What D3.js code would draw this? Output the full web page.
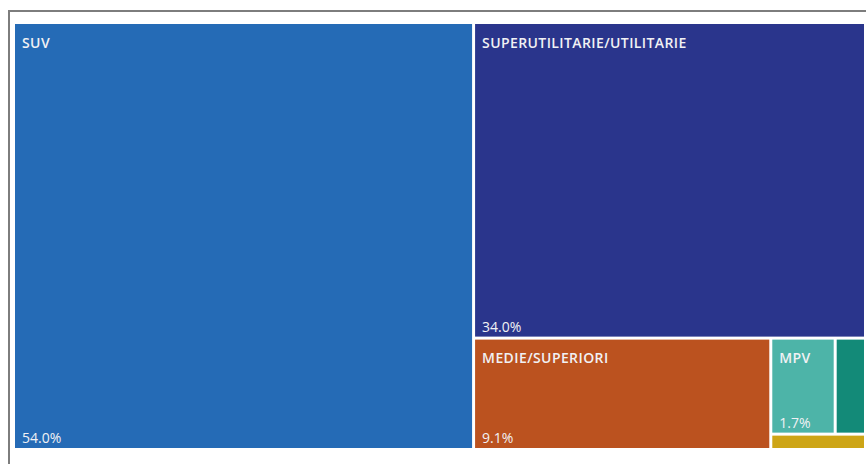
<!DOCTYPE html>
<html>
<head>
<meta charset="utf-8">
<script src="https://cdn.jsdelivr.net/npm/d3@7"></script>
<style>
  html, body { margin: 0; padding: 0; background: #ffffff; }
  svg { display: block; }
</style>
</head>
<body>
<svg id="chart" width="866" height="464"></svg>
<script>
// ---- data ----
const categories = ["SUV", "SUPERUTILITARIE/UTILITARIE", "MEDIE/SUPERIORI", "MPV", "SPORTIVE", "ALTRO"];
const shares = [54.0, 34.0, 9.1, 1.7, 0.8, 0.4];
const colors = ["#256bb6", "#2a358c", "#bb521f", "#4db4a8", "#138a78", "#cda516"];
const showLabel = [true, true, true, true, false, false];

const svg = d3.select("#chart");

// outer frame (partially visible)
svg.append("path")
  .attr("d", "M9,470 L9,11 L870,11")
  .attr("fill", "none")
  .attr("stroke", "#7d7d7d")
  .attr("stroke-width", 2);

const data = {
  name: "root",
  children: categories.map((c, i) => ({ name: c, value: shares[i], color: colors[i], label: showLabel[i] }))
};

const root = d3.hierarchy(data).sum(d => d.value || 0).sort((a, b) => b.value - a.value);

const x0 = 15, y0 = 24, x1 = 864, y1 = 448;
d3.treemap()
  .tile(d3.treemapSquarify)
  .size([x1 - x0, y1 - y0])
  .paddingInner(3)
  .round(false)(root);

const g = svg.append("g").attr("transform", `translate(${x0},${y0})`);

const leaf = g.selectAll("g.leaf")
  .data(root.leaves())
  .join("g")
  .attr("class", "leaf")
  .attr("transform", d => `translate(${d.x0},${d.y0})`);

leaf.append("rect")
  .attr("width", d => d.x1 - d.x0)
  .attr("height", d => d.y1 - d.y0)
  .attr("fill", d => d.data.color);

const fmt = d3.format(".1f");

leaf.filter(d => d.data.label).append("text")
  .attr("x", 7)
  .attr("y", 23.5)
  .attr("fill", "#f1f1f4")
  .attr("font-family", "'Open Sans', 'Noto Sans', sans-serif")
  .attr("font-size", 14)
  .attr("font-weight", 600)
  .attr("letter-spacing", 0.4)
  .text(d => d.data.name);

leaf.filter(d => d.data.label).append("text")
  .attr("x", 7)
  .attr("y", d => d.y1 - d.y0 - 5)
  .attr("fill", "#f1f1f4")
  .attr("font-family", "'Open Sans', 'Noto Sans', sans-serif")
  .attr("font-size", 14)
  .text(d => fmt(d.data.value) + "%");
</script>
</body>
</html>
